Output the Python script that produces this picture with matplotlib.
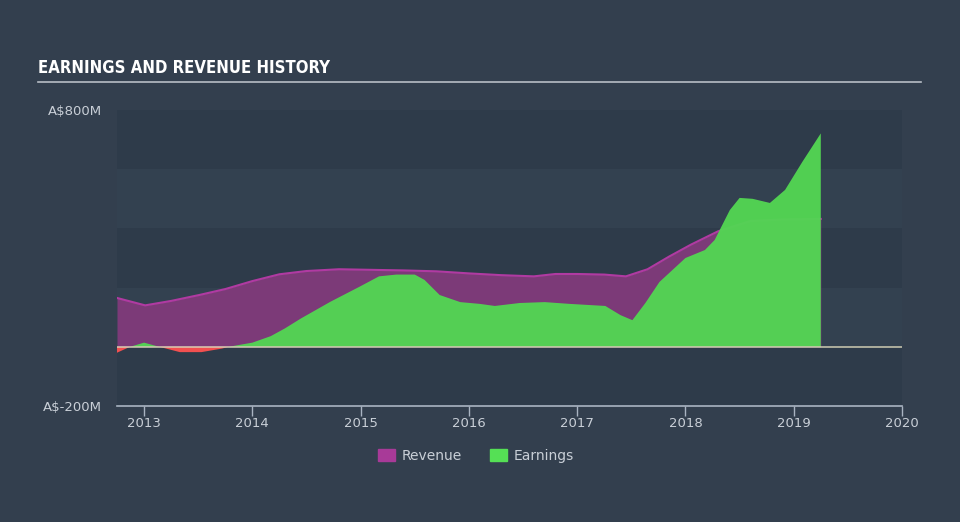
import numpy as np
import matplotlib.pyplot as plt
from matplotlib.patches import Patch

# values (A$ millions, decimal years)
rev_years = [2012.75, 2013.01, 2013.25, 2013.51, 2013.75, 2014.0, 2014.25, 2014.5, 2014.8,
             2015.1, 2015.4, 2015.7, 2016.0, 2016.3, 2016.6, 2016.8, 2017.0, 2017.25,
             2017.45, 2017.65, 2017.85, 2018.05, 2018.3, 2018.6, 2018.9, 2019.25]
revenue = [165, 140, 155, 175, 195, 222, 245, 256, 262,
           260, 258, 255, 248, 242, 238, 246, 246, 244,
           238, 262, 305, 345, 390, 425, 430, 432]

earn_years = [2012.75, 2012.87, 2013.0, 2013.12, 2013.33, 2013.53, 2013.72, 2013.78, 2014.0,
              2014.17, 2014.3, 2014.45, 2014.72, 2014.99, 2015.17, 2015.33, 2015.5, 2015.59,
              2015.73, 2015.92, 2016.1, 2016.24, 2016.47, 2016.7, 2016.93, 2017.26, 2017.4,
              2017.51, 2017.63, 2017.76, 2018.0, 2018.18, 2018.27, 2018.41, 2018.5, 2018.62,
              2018.78, 2018.92, 2019.08, 2019.25]
earnings = [-20, 0, 14, 2, -18, -18, -6, 0, 14,
            36, 62, 96, 152, 203, 238, 244, 244, 226,
            175, 151, 145, 138, 148, 151, 145, 138, 107,
            90, 148, 219, 300, 327, 361, 462, 503, 500,
            486, 530, 625, 721]

ytick_vals = [-200, 800]
ytick_labels = ['A$-200M', 'A$800M']
xtick_vals = [2013, 2014, 2015, 2016, 2017, 2018, 2019, 2020]

bg = '#333f4e'
txt = '#c9cfd7'
axis_col = '#a9b4c2'
purple_fill = '#7c3a78'
purple_line = '#b03aa2'
green = '#53d653'
red = '#f25050'

fig = plt.figure(figsize=(9.6, 5.22), dpi=100, facecolor=bg)
ax = fig.add_axes([117/960, 1 - 406/522, (902-117)/960, (406-110)/522])
ax.set_facecolor(bg)

# alternating horizontal bands
band_cols = ['#2e3b4a', '#334150']
for i, lo in enumerate(range(600, -201, -200)):
    ax.axhspan(lo, lo + 200, color=band_cols[i % 2], lw=0, zorder=0)

ry = np.array(rev_years)
rv = np.array(revenue)
ax.fill_between(ry, 0, rv, color=purple_fill, lw=0, zorder=2)
ax.plot(ry, rv, color=purple_line, lw=1.5, zorder=3)

ey = np.array(earn_years)
ev = np.array(earnings)
ax.fill_between(ey, 0, ev, where=ev >= 0, interpolate=True, color=green, lw=0, alpha=0.96, zorder=4)
ax.fill_between(ey, 0, ev, where=ev <= 0, interpolate=True, color=red, lw=0, zorder=4)

ax.axhline(0, color='#d8d4b8', lw=1.3, alpha=0.8, zorder=5)

ax.set_xlim(2012.75, 2020)
ax.set_ylim(-200, 800)

for s in ['top', 'right', 'left']:
    ax.spines[s].set_visible(False)
ax.spines['bottom'].set_color(axis_col)
ax.spines['bottom'].set_linewidth(1.2)

ax.set_xticks(xtick_vals)
ax.set_xticklabels([str(y) for y in xtick_vals])
ax.tick_params(axis='x', colors=axis_col, length=7, width=1, labelsize=9.5, labelcolor=txt, pad=1)
ax.set_yticks(ytick_vals)
ax.set_yticklabels(ytick_labels)
ax.tick_params(axis='y', length=0, labelsize=9.5, labelcolor=txt, pad=11)

# title and underline
fig.text(38/960, 1 - 68/522, 'EARNINGS AND REVENUE HISTORY', color='white', fontsize=12,
         fontweight='bold', fontstretch='condensed', va='center', ha='left')
fig.add_artist(plt.Line2D([38/960, 921/960], [1 - 82/522, 1 - 82/522], color='#b8bec6', lw=1.2))

handles = [Patch(color='#a83a98', label='Revenue'), Patch(color='#55e055', label='Earnings')]
fig.legend(handles=handles, loc='center', bbox_to_anchor=(476/960, 1 - 456/522), ncol=2,
           frameon=False, fontsize=10, labelcolor=txt, handlelength=1.2, handleheight=1.0,
           columnspacing=2.0, handletextpad=0.5)

fig.savefig('out.png', dpi=100, facecolor=bg)
